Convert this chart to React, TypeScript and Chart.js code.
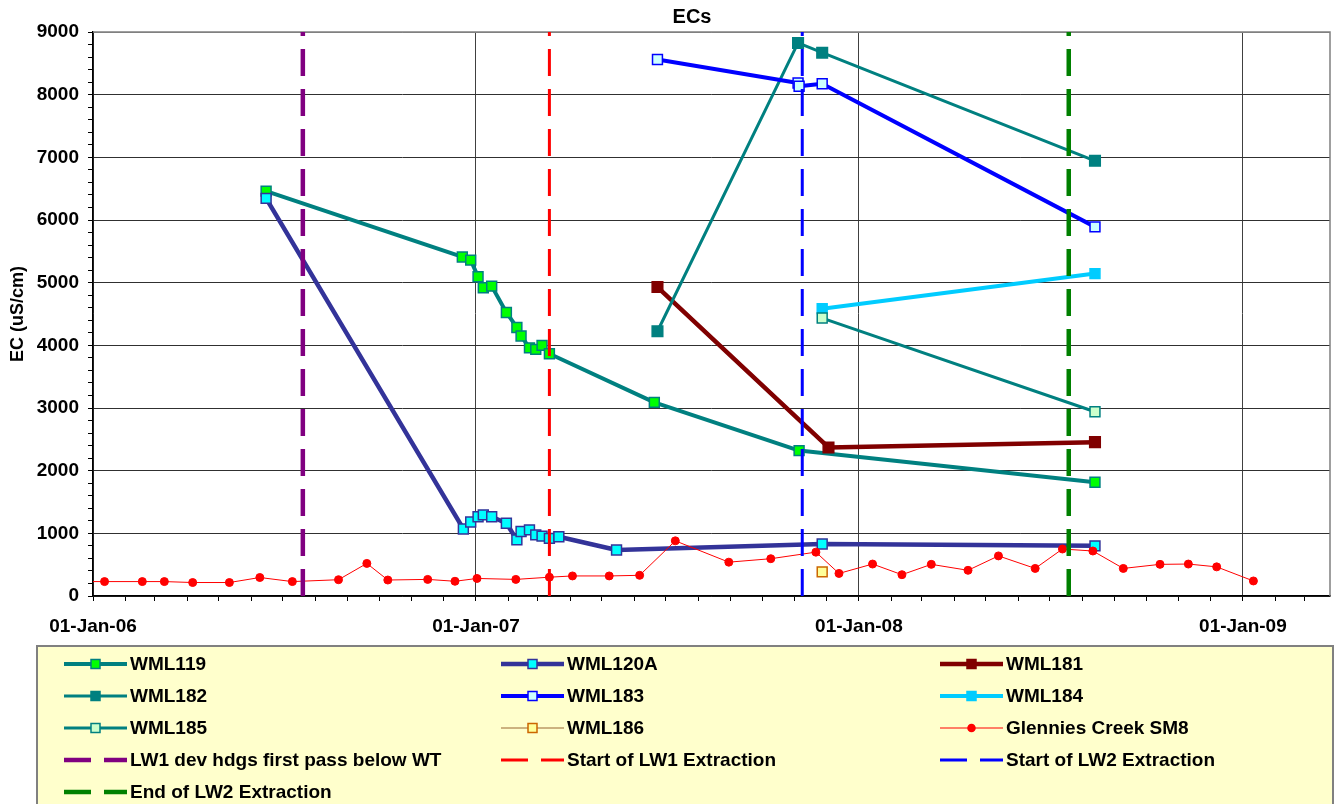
import React, { useEffect, useRef } from 'react';
import { Chart, registerables } from 'chart.js';

Chart.register(...registerables);

const FONT = '"Liberation Sans", Arial, Helvetica, sans-serif';

// ---------- axes ----------
const xAxisStart = '2006-01-01';
const xAxisEnd = '2009-03-25';
const xYearTickDates = ['2006-01-01', '2007-01-01', '2008-01-01', '2009-01-01'];
const xYearTickLabels = ['01-Jan-06', '01-Jan-07', '01-Jan-08', '01-Jan-09'];
const yMin = 0;
const yMax = 9000;
const yMajor = 1000;
const yMinor = 200;
const chartTitle = 'ECs';
const yTitle = 'EC (uS/cm)';

// ---------- series ----------
const wml119Dates = ['2006-06-15', '2006-12-19', '2006-12-27', '2007-01-03', '2007-01-08', '2007-01-16', '2007-01-30', '2007-02-09', '2007-02-13', '2007-02-21', '2007-02-27', '2007-03-05', '2007-03-12', '2007-06-20', '2007-11-05', '2008-08-13'];
const wml119Values = [6460, 5410, 5360, 5095, 4920, 4945, 4525, 4285, 4150, 3960, 3935, 4000, 3865, 3090, 2320, 1815];

const wml120aDates = ['2006-06-15', '2006-12-20', '2006-12-27', '2007-01-03', '2007-01-08', '2007-01-16', '2007-01-30', '2007-02-09', '2007-02-13', '2007-02-21', '2007-02-27', '2007-03-05', '2007-03-12', '2007-03-21', '2007-05-15', '2007-11-27', '2008-08-13'];
const wml120aValues = [6345, 1070, 1180, 1265, 1295, 1265, 1160, 895, 1030, 1055, 975, 955, 920, 945, 735, 830, 800];

const wml181Dates = ['2007-06-23', '2007-12-03', '2008-08-13'];
const wml181Values = [4930, 2370, 2455];

const wml182Dates = ['2007-06-23', '2007-11-04', '2007-11-27', '2008-08-13'];
const wml182Values = [4225, 8825, 8670, 6945];

const wml183Dates = ['2007-06-23', '2007-11-04', '2007-11-05', '2007-11-27', '2008-08-13'];
const wml183Values = [8560, 8185, 8135, 8175, 5890];

const wml184Dates = ['2007-11-27', '2008-08-13'];
const wml184Values = [4585, 5145];

const wml185Dates = ['2007-11-27', '2008-08-13'];
const wml185Values = [4435, 2940];

const wml186Dates = ['2007-11-27'];
const wml186Values = [385];

const sm8Dates = ['2005-12-15', '2006-01-12', '2006-02-17', '2006-03-10', '2006-04-06', '2006-05-11', '2006-06-09', '2006-07-10', '2006-08-23', '2006-09-19', '2006-10-09', '2006-11-16', '2006-12-12', '2007-01-02', '2007-02-08', '2007-03-12', '2007-04-03', '2007-05-08', '2007-06-06', '2007-07-10', '2007-08-30', '2007-10-09', '2007-11-21', '2007-12-13', '2008-01-14', '2008-02-11', '2008-03-10', '2008-04-14', '2008-05-13', '2008-06-17', '2008-07-13', '2008-08-11', '2008-09-09', '2008-10-14', '2008-11-10', '2008-12-07', '2009-01-11'];
const sm8Values = [230, 230, 230, 230, 215, 215, 295, 230, 260, 520, 255, 265, 235, 280, 265, 300, 320, 320, 330, 880, 540, 595, 700, 360, 510, 340, 505, 410, 640, 440, 750, 718, 440, 505, 510, 465, 240];

// ---------- reference events ----------
const eventLabels = ['LW1 dev hdgs first pass below WT', 'Start of LW1 Extraction', 'Start of LW2 Extraction', 'End of LW2 Extraction'];
const eventDates = ['2006-07-20', '2007-03-12', '2007-11-08', '2008-07-19'];
const eventColors = ['#800080', '#FF0000', '#0000FF', '#008000'];
const eventWidths = [4.5, 3, 3, 4.5];

const toDay = (s: string) => {
  const [y, m, d] = s.split('-').map(Number);
  const [y0, m0, d0] = xAxisStart.split('-').map(Number);
  return Math.round((Date.UTC(y, m - 1, d) - Date.UTC(y0, m0 - 1, d0)) / 86400000);
};
const pts = (dates: string[], vals: number[]) => dates.map((d, i) => ({ x: toDay(d), y: vals[i] }));

const yearTickDays = xYearTickDates.map(toDay);

function monthTicks() {
  const out: { value: number }[] = [];
  const [y0] = xAxisStart.split('-').map(Number);
  const end = toDay(xAxisEnd);
  for (let k = 0; k < 60; k++) {
    const y = y0 + Math.floor(k / 12);
    const m = (k % 12) + 1;
    const v = toDay(`${y}-${String(m).padStart(2, '0')}-01`);
    if (v > end) break;
    out.push({ value: v });
  }
  return out;
}

function series(label: string, dates: string[], vals: number[], line: string, width: number, fill: string, border: string, style: string, radius: number) {
  return {
    label,
    data: pts(dates, vals),
    borderColor: line,
    backgroundColor: fill,
    borderWidth: width,
    pointStyle: style,
    pointRadius: radius,
    pointBackgroundColor: fill,
    pointBorderColor: border,
    pointBorderWidth: 1.5,
    borderJoinStyle: 'round',
    borderCapStyle: 'round',
    tension: 0,
  };
}

const decorPlugin = {
  id: 'decor',
  beforeDatasetsDraw(chart: any) {
    const { ctx, chartArea: a } = chart;
    ctx.save();
    ctx.strokeStyle = '#808080';
    ctx.lineWidth = 1.5;
    ctx.beginPath();
    ctx.moveTo(a.left, a.top);
    ctx.lineTo(a.right, a.top);
    ctx.lineTo(a.right, a.bottom);
    ctx.stroke();
    ctx.restore();
  },
  afterDraw(chart: any) {
    const { ctx } = chart;
    ctx.save();
    // title
    ctx.fillStyle = '#000';
    ctx.font = `bold 20px ${FONT}`;
    ctx.textAlign = 'center';
    ctx.textBaseline = 'middle';
    ctx.fillText(chartTitle, 692, 17);

    // legend box
    ctx.fillStyle = '#FFFFCC';
    ctx.fillRect(37, 646, 1296, 170);
    ctx.strokeStyle = '#808080';
    ctx.lineWidth = 2;
    ctx.strokeRect(37, 646, 1296, 170);

    const cols = [64, 501, 940];
    chart.data.datasets.forEach((ds: any, i: number) => {
      const col = i % 3;
      const row = Math.floor(i / 3);
      const x0 = cols[col];
      const y = 664 + row * 32;
      ctx.save();
      ctx.strokeStyle = ds.borderColor;
      ctx.lineWidth = ds.borderWidth;
      ctx.setLineDash(ds.borderDash || []);
      ctx.lineCap = 'butt';
      ctx.beginPath();
      ctx.moveTo(x0, y);
      ctx.lineTo(x0 + 63, y);
      ctx.stroke();
      ctx.setLineDash([]);
      if (ds.pointRadius > 0) {
        const cx = x0 + 31.5;
        ctx.fillStyle = ds.pointBackgroundColor;
        ctx.strokeStyle = ds.pointBorderColor;
        ctx.lineWidth = 1.5;
        ctx.beginPath();
        if (ds.pointStyle === 'circle') {
          ctx.arc(cx, y, 3.5, 0, Math.PI * 2);
        } else {
          ctx.rect(cx - 4.5, y - 4.5, 9, 9);
        }
        ctx.fill();
        ctx.stroke();
      }
      ctx.fillStyle = '#000';
      ctx.font = `bold 19px ${FONT}`;
      ctx.textAlign = 'left';
      ctx.textBaseline = 'middle';
      ctx.fillText(ds.label, x0 + 66, y + 1);
      ctx.restore();
    });
    ctx.restore();
  },
};

export default function App() {
  const ref = useRef<HTMLCanvasElement | null>(null);

  useEffect(() => {
    if (!ref.current) return;
    Chart.defaults.font.family = FONT;

    const lineSets: any[] = [
      series('WML119', wml119Dates, wml119Values, '#008080', 4, '#00FF00', '#008080', 'rect', 7),
      series('WML120A', wml120aDates, wml120aValues, '#333399', 4.5, '#00FFFF', '#333399', 'rect', 7),
      series('WML181', wml181Dates, wml181Values, '#800000', 4.5, '#800000', '#800000', 'rect', 7.5),
      series('WML182', wml182Dates, wml182Values, '#008080', 3, '#008080', '#008080', 'rect', 7.5),
      series('WML183', wml183Dates, wml183Values, '#0000FF', 4, '#CCFFFF', '#0000FF', 'rect', 7),
      series('WML184', wml184Dates, wml184Values, '#00CCFF', 4, '#00CCFF', '#00CCFF', 'rect', 7),
      series('WML185', wml185Dates, wml185Values, '#008080', 3, '#CCFFCC', '#008080', 'rect', 7),
      series('WML186', wml186Dates, wml186Values, '#996633', 1, '#FFFF99', '#CC6600', 'rect', 7),
      series('Glennies Creek SM8', sm8Dates, sm8Values, '#FF0000', 1, '#FF0000', '#FF0000', 'circle', 4),
    ];
    lineSets[8].pointBorderWidth = 1;

    const eventSets = eventLabels.map((label, i) => ({
      label,
      data: [
        { x: toDay(eventDates[i]), y: yMax },
        { x: toDay(eventDates[i]), y: yMin },
      ],
      borderColor: eventColors[i],
      backgroundColor: eventColors[i],
      borderWidth: eventWidths[i],
      borderDash: [27, 13],
      borderDashOffset: 23,
      borderCapStyle: 'butt',
      pointRadius: 0,
      tension: 0,
    }));

    const datasets = [...lineSets, ...eventSets].map((d, i, arr) => ({ ...d, order: arr.length - i }));

    const chart = new Chart(ref.current, {
      type: 'line',
      data: { datasets },
      plugins: [decorPlugin],
      options: {
        responsive: false,
        animation: false,
        events: [],
        layout: { autoPadding: false, padding: { left: 0, right: 5, top: 32, bottom: 0 } },
        plugins: {
          legend: { display: false },
          tooltip: { enabled: false },
          title: { display: false },
        },
        scales: {
          x: {
            type: 'linear',
            min: toDay(xAxisStart),
            max: toDay(xAxisEnd),
            bounds: 'data',
            afterBuildTicks: (scale: any) => {
              scale.ticks = monthTicks();
            },
            afterFit: (scale: any) => {
              scale.height = 208;
              scale.paddingRight = 0;
              scale.paddingLeft = 0;
            },
            ticks: {
              autoSkip: false,
              maxRotation: 0,
              minRotation: 0,
              padding: 14,
              color: '#000',
              font: { family: FONT, size: 19, weight: 'bold' },
              callback: (v: any) => {
                const idx = yearTickDays.indexOf(Number(v));
                return idx >= 0 ? xYearTickLabels[idx] : '';
              },
            },
            grid: {
              color: (c: any) => (c.tick && yearTickDays.indexOf(c.tick.value) >= 0 ? '#404040' : 'rgba(0,0,0,0)'),
              tickColor: '#000',
              tickLength: 5,
              lineWidth: 1,
            },
            border: { color: '#000', width: 1.5 },
          },
          y: {
            type: 'linear',
            min: yMin,
            max: yMax,
            afterFit: (scale: any) => {
              scale.width = 93;
            },
            ticks: {
              stepSize: yMinor,
              autoSkip: false,
              padding: 9,
              color: '#000',
              font: { family: FONT, size: 19, weight: 'bold' },
              callback: (v: any) => (Number(v) % yMajor === 0 ? String(v) : ''),
            },
            grid: {
              color: (c: any) => {
                const v = c.tick ? c.tick.value : 1;
                if (v === yMax) return '#808080';
                return v % yMajor === 0 ? '#303030' : 'rgba(0,0,0,0)';
              },
              tickColor: '#000',
              tickLength: 5,
              lineWidth: 1,
            },
            border: { color: '#000', width: 1.5 },
            title: {
              display: true,
              text: yTitle,
              color: '#000',
              font: { family: FONT, size: 18, weight: 'bold' },
              padding: { top: 7, bottom: 4 },
            },
          },
        },
      } as any,
    } as any);

    return () => chart.destroy();
  }, []);

  return (
    <div style={{ position: 'fixed', left: 0, top: 0, width: 1335, height: 804, background: '#fff' }}>
      <canvas ref={ref} width={1335} height={804} style={{ display: 'block' }} />
    </div>
  );
}
